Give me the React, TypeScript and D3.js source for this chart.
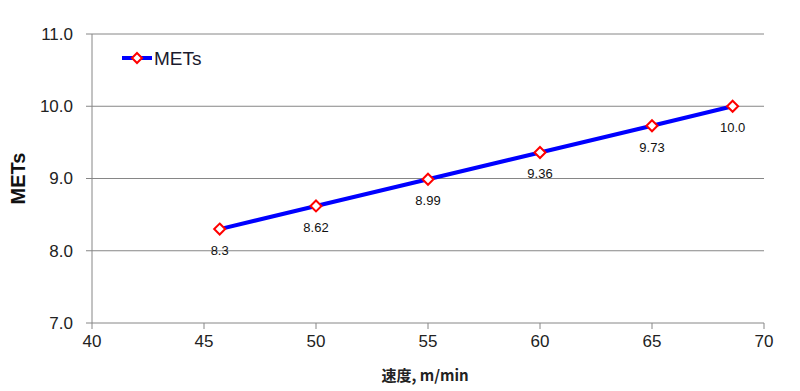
import React from "react";
import * as d3 from "d3";

const speeds = [45.7, 50, 55, 60, 65, 68.6];
const mets = [8.3, 8.62, 8.99, 9.36, 9.73, 10.0];
const pointLabels = ["8.3", "8.62", "8.99", "9.36", "9.73", "10.0"];
const xTicks = [40, 45, 50, 55, 60, 65, 70];
const yTicks = [7, 8, 9, 10, 11];

const App = () => {
  const width = 800,
    height = 391;
  const margin = { top: 34, right: 36, bottom: 68, left: 92 };

  const x = d3.scaleLinear().domain([40, 70]).range([margin.left, width - margin.right]);
  const y = d3.scaleLinear().domain([7, 11]).range([height - margin.bottom, margin.top]);

  const line = d3
    .line<number>()
    .x((d, i) => x(speeds[i]))
    .y((d) => y(d));

  const diamond = (cx: number, cy: number, r: number) =>
    `M${cx},${cy - r}L${cx + r},${cy}L${cx},${cy + r}L${cx - r},${cy}Z`;

  const font = "'Liberation Sans', Arial, sans-serif";

  return (
    <svg width={width} height={height} style={{ position: "absolute", left: 0, top: 0 }}>
      <rect width={width} height={height} fill="#fff" />
      {/* grid lines */}
      {yTicks.slice(1).map((t) => (
        <line key={t} x1={x(40)} x2={x(70)} y1={y(t)} y2={y(t)} stroke="#868686" strokeWidth={1} />
      ))}
      {/* y axis */}
      <line x1={x(40)} x2={x(40)} y1={y(11)} y2={y(7)} stroke="#868686" />
      {yTicks.map((t) => (
        <g key={t}>
          <line x1={x(40) - 6} x2={x(40)} y1={y(t)} y2={y(t)} stroke="#868686" />
          <text x={x(40) - 19} y={y(t)} dy="0.35em" textAnchor="end" fontSize={17} fill="#222" fontFamily={font}>
            {d3.format(".1f")(t)}
          </text>
        </g>
      ))}
      {/* x axis */}
      <line x1={x(40)} x2={x(70)} y1={y(7)} y2={y(7)} stroke="#868686" />
      {xTicks.map((t) => (
        <g key={t}>
          <line x1={x(t)} x2={x(t)} y1={y(7)} y2={y(7) + 6} stroke="#868686" />
          <text x={x(t)} y={y(7) + 24} textAnchor="middle" fontSize={17} fill="#222" fontFamily={font}>
            {t}
          </text>
        </g>
      ))}
      <text x={425} y={381} textAnchor="middle" fontSize={15} fontWeight="bold" fill="#222" fontFamily="'Noto Sans CJK JP', sans-serif">
        速度, m/min
      </text>
      <text
        transform={`translate(25,${(y(7) + y(11)) / 2}) rotate(-90)`}
        textAnchor="middle"
        fontSize={20}
        fontWeight="bold"
        fill="#111"
        fontFamily={font}
      >
        METs
      </text>
      {/* series */}
      <path d={line(mets) || ""} fill="none" stroke="#0000ff" strokeWidth={4} />
      {mets.map((v, i) => (
        <g key={i}>
          <path d={diamond(x(speeds[i]), y(v), 5.5)} fill="#fff" stroke="#ff0000" strokeWidth={2} />
          <text x={x(speeds[i])} y={y(v) + 26} textAnchor="middle" fontSize={13} fill="#111" fontFamily={font}>
            {pointLabels[i]}
          </text>
        </g>
      ))}
      {/* legend */}
      <line x1={122} x2={152} y1={58} y2={58} stroke="#0000ff" strokeWidth={4} />
      <path d={diamond(137, 58, 5)} fill="#fff" stroke="#ff0000" strokeWidth={2} />
      <text x={154} y={58} dy="0.35em" fontSize={19} fill="#1a1a2e" fontFamily={font}>
        METs
      </text>
    </svg>
  );
};

export default App;
